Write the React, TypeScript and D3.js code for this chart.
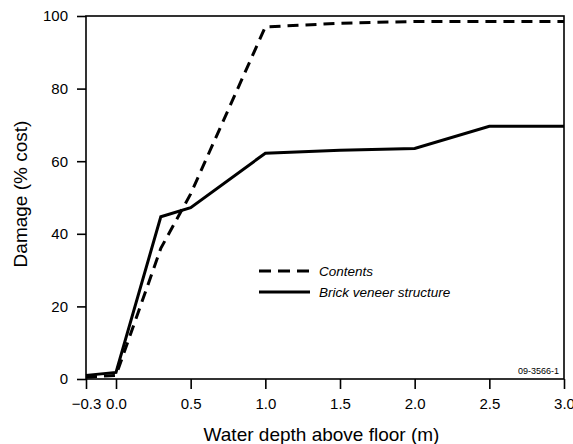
import * as d3 from "d3";
import React, { useEffect, useRef } from "react";

// depth above floor (m)
const depths = [-0.3, 0.0, 0.3, 0.5, 1.0, 1.5, 2.0, 2.5, 3.0];
// damage, % of cost
const contents = [0.5, 1.0, 36, 51, 97, 98, 98.5, 98.5, 98.5];
const brickVeneer = [1.0, 1.8, 44.7, 47.2, 62.2, 63, 63.5, 69.6, 69.6];

const xTicks = [-0.3, 0.0, 0.5, 1.0, 1.5, 2.0, 2.5, 3.0];
const yTicks = [0, 20, 40, 60, 80, 100];

const legendItems = [
  { label: "Contents", dash: "12,7" },
  { label: "Brick veneer structure", dash: null },
];

export default function App() {
  const svgRef = useRef<SVGSVGElement>(null);
  const width = 573;
  const height = 444;
  const margin = { top: 16, right: 9, bottom: 65, left: 86 };

  useEffect(() => {
    const svg = d3.select(svgRef.current);
    svg.selectAll("*").remove();

    const innerWidth = width - margin.left - margin.right;
    const innerHeight = height - margin.top - margin.bottom;
    const font = "'Liberation Sans', Arial, Helvetica, sans-serif";

    // the -0.3 stretch is squeezed on the original axis
    const xScale = d3
      .scaleLinear()
      .domain([-0.3, 0, 3])
      .range([0, 30, innerWidth]);
    const yScale = d3.scaleLinear().domain([0, 100]).range([innerHeight, 0]);

    const g = svg
      .append("g")
      .attr("transform", `translate(${margin.left}, ${margin.top})`);

    // frame
    g.append("rect")
      .attr("width", innerWidth)
      .attr("height", innerHeight)
      .attr("fill", "none")
      .attr("stroke", "#000")
      .attr("stroke-width", 1.6);

    const xAxis = d3
      .axisBottom(xScale)
      .tickValues(xTicks)
      .tickSize(10)
      .tickPadding(9)
      .tickFormat((d) => {
        const v = d as number;
        return v < 0 ? "\u2212" + Math.abs(v).toFixed(1) : v.toFixed(1);
      });
    const xAxisG = g
      .append("g")
      .attr("transform", `translate(0, ${innerHeight})`)
      .call(xAxis);
    xAxisG.select(".domain").remove();

    const yAxis = d3
      .axisLeft(yScale)
      .tickValues(yTicks)
      .tickSize(9)
      .tickPadding(9)
      .tickFormat(d3.format("d"));
    const yAxisG = g.append("g").call(yAxis);
    yAxisG.select(".domain").remove();

    [xAxisG, yAxisG].forEach((ax) => {
      ax.selectAll("line").attr("stroke", "#000").attr("stroke-width", 1.6);
      ax.selectAll("text")
        .attr("fill", "#000")
        .style("font-family", font)
        .style("font-size", "15px");
    });

    // axis titles
    g.append("text")
      .attr("x", 235.5)
      .attr("y", innerHeight + 62)
      .attr("text-anchor", "middle")
      .style("font-family", font)
      .style("font-size", "19px")
      .text("Water depth above floor (m)");

    g.append("text")
      .attr("transform", "rotate(-90)")
      .attr("x", -178)
      .attr("y", -59)
      .attr("text-anchor", "middle")
      .style("font-family", font)
      .style("font-size", "19px")
      .text("Damage (% cost)");

    // lines
    const line = d3
      .line<number>()
      .x((_, i) => xScale(depths[i]))
      .y((d) => yScale(d));

    g.append("path")
      .attr("d", line(contents))
      .attr("fill", "none")
      .attr("stroke", "#000")
      .attr("stroke-width", 3)
      .attr("stroke-dasharray", "11,7");

    g.append("path")
      .attr("d", line(brickVeneer))
      .attr("fill", "none")
      .attr("stroke", "#000")
      .attr("stroke-width", 3)
      .attr("stroke-linejoin", "miter");

    // legend
    const legend = g.append("g").attr("transform", "translate(173, 255)");
    legendItems.forEach((item, i) => {
      const row = legend.append("g").attr("transform", `translate(0, ${i * 21})`);
      row.append("line")
        .attr("x1", 0)
        .attr("x2", 51)
        .attr("stroke", "#000")
        .attr("stroke-width", 3)
        .attr("stroke-dasharray", item.dash ?? null);
      row.append("text")
        .attr("x", 60)
        .attr("y", 5)
        .style("font-family", font)
        .style("font-size", "13.5px")
        .style("font-style", "italic")
        .text(item.label);
    });

    // figure id
    g.append("text")
      .attr("x", innerWidth - 5)
      .attr("y", innerHeight - 5)
      .attr("text-anchor", "end")
      .style("font-family", font)
      .style("font-size", "9px")
      .text("09-3566-1");
  }, []);

  return (
    <div style={{ position: "absolute", left: 0, top: 0 }}>
      <svg ref={svgRef} width={width} height={height} style={{ display: "block", background: "#fff" }} />
    </div>
  );
}
